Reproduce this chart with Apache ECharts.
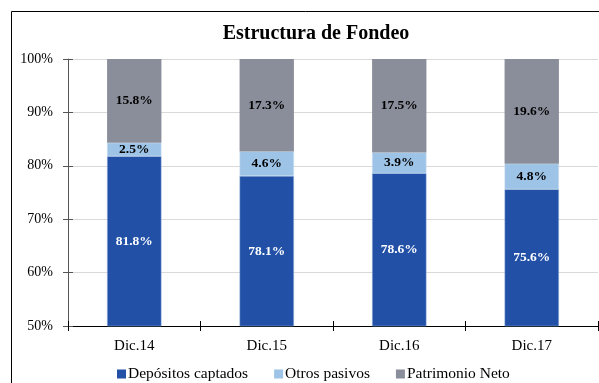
<!DOCTYPE html>
<html>
<head>
<meta charset="utf-8">
<script src="https://cdn.jsdelivr.net/npm/echarts@6/dist/echarts.min.js"></script>
<style>
  html, body { margin: 0; padding: 0; background: #fff; }
  #chart { width: 599px; height: 383px; }
</style>
</head>
<body>
<div id="chart"></div>
<script>
const categories = ['Dic.14', 'Dic.15', 'Dic.16', 'Dic.17'];
const depositos = [81.8, 78.1, 78.6, 75.6];
const otrosPasivos = [2.5, 4.6, 3.9, 4.8];
const patrimonio = [15.8, 17.3, 17.5, 19.6];
const yTicks = [50, 60, 70, 80, 90, 100];

const serif = '"Liberation Serif", "DejaVu Serif", serif';
const chart = echarts.init(document.getElementById('chart'), null, { renderer: 'canvas' });

function pctLabel(color) {
  return {
    show: true, position: 'inside', color: color,
    fontFamily: serif, fontWeight: 'bold', fontSize: 13.5,
    formatter: p => p.value.toFixed(1) + '%'
  };
}

chart.setOption({
  animation: false,
  backgroundColor: '#fff',
  title: {
    text: 'Estructura de Fondeo', left: 311, top: 19, textAlign: 'center',
    textStyle: { fontFamily: serif, fontWeight: 'bold', fontSize: 20, color: '#000' }
  },
  graphic: [
    { type: 'polyline', shape: { points: [[11.5, 400], [11.5, 11.5], [610, 11.5]] },
      style: { stroke: '#000', lineWidth: 1, fill: null } }
  ],
  legend: {
    top: 361, left: 112, itemWidth: 9, itemHeight: 9, itemGap: 26,
    icon: 'rect',
    itemStyle: { borderWidth: 0 },
    textStyle: { fontFamily: serif, fontSize: 15.5, color: '#000', padding: [0, 0, 0, -3] },
    data: ['Depósitos captados', 'Otros pasivos', 'Patrimonio Neto']
  },
  grid: { left: 68, right: 1, top: 59, bottom: 57 },
  xAxis: [
    {
      type: 'category', data: categories,
      axisLine: { lineStyle: { color: '#000', width: 1 } },
      axisTick: { show: true, length: 5, lineStyle: { color: '#000' } },
      axisLabel: { fontFamily: serif, fontSize: 15, color: '#000', margin: 13 }
    },
    {
      type: 'category', data: categories, position: 'bottom',
      axisLine: { show: false },
      axisTick: { show: true, inside: true, length: 5, lineStyle: { color: '#000' } },
      axisLabel: { show: false }
    }
  ],
  yAxis: [
    {
      type: 'value', min: 50, max: 100, interval: 10,
      axisLine: { show: true, lineStyle: { color: '#555', width: 1 } },
      axisTick: { show: true, length: 5, lineStyle: { color: '#555' } },
      splitLine: { show: true, lineStyle: { color: '#d9d9d9' } },
      axisLabel: {
        fontFamily: serif, fontSize: 14, color: '#000', margin: 15,
        formatter: v => yTicks.includes(v) ? v + '%' : ''
      }
    },
    {
      type: 'value', min: 50, max: 100, interval: 10, position: 'left',
      axisLine: { show: false },
      axisTick: { show: true, inside: true, length: 5, lineStyle: { color: '#555' } },
      splitLine: { show: false },
      axisLabel: { show: false }
    }
  ],
  series: [
    {
      name: 'Depósitos captados', type: 'bar', stack: 'total', data: depositos,
      barWidth: '41%',
      itemStyle: { color: '#2150A6', borderColor: '#8FAEDD', borderWidth: 0.5 },
      label: pctLabel('#fff')
    },
    {
      name: 'Otros pasivos', type: 'bar', stack: 'total', data: otrosPasivos,
      itemStyle: { color: '#9DC3E6', borderColor: '#c8dcef', borderWidth: 0.5 },
      label: pctLabel('#000')
    },
    {
      name: 'Patrimonio Neto', type: 'bar', stack: 'total', data: patrimonio,
      itemStyle: { color: '#8A8D9A' },
      label: pctLabel('#000')
    }
  ]
});
</script>
</body>
</html>
